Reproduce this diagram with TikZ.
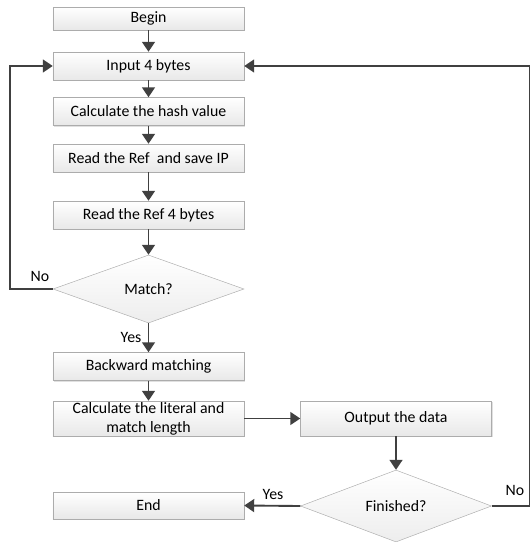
\documentclass[tikz,border=0pt]{standalone}
\usepackage{fontspec}
\setmainfont{Carlito}
\usetikzlibrary{arrows.meta,shapes.geometric,shadows}

\tikzset{
  box/.style={rectangle, draw=gray!65, top color=white, bottom color=gray!18,
    minimum width=5.73cm, minimum height=0.84cm, inner sep=1pt, align=center,
    font=\fontsize{13.5}{16}\selectfont,
    drop shadow={shadow xshift=1.2pt, shadow yshift=-1.2pt, fill=black!30, opacity=0.4}},
  decision/.style={diamond, draw=gray!65, top color=white, bottom color=gray!14,
    minimum width=5.73cm, minimum height=2.04cm, inner sep=0pt,
    font=\fontsize{13.5}{16}\selectfont},
  flow/.style={draw=black!75, line width=1.6pt, -{Triangle[length=8.5pt,width=11pt]}},
  tag/.style={font=\fontsize{13.5}{16}\selectfont, inner sep=1pt},
}

\begin{document}
\begin{tikzpicture}[x=0.03cm, y=-0.03cm]
  \useasboundingbox (0,0) rectangle (531,542);

  % Main column
  \node[box, minimum height=0.69cm] (begin) at (148.5,18.5) {Begin};
  \node[box] (input) at (148.5,66) {Input 4 bytes};
  \node[box] (hash) at (148.5,111.5) {Calculate the hash value};
  \node[box] (saveip) at (148.5,158) {Read the Ref\ \ and save IP};
  \node[box] (readref) at (148.5,215) {Read the Ref 4 bytes};
  \node[decision] (match) at (148.5,289) {Match?};
  \node[box] (backward) at (148.5,366.5) {Backward matching};
  \node[box, minimum height=1.05cm] (literal) at (148.5,418.5) {Calculate the literal and\\match length};
  \node[box, minimum height=0.81cm] (end) at (148.5,505.5) {End};

  % Right column
  \node[box, minimum height=1.05cm] (output) at (396,418.5) {Output the data};
  \node[decision] (finished) at (396,506) {Finished?};

  % Loop corners
  \coordinate (leftturn) at (10,289);
  \coordinate (lefttop) at (10,66);
  \coordinate (rightturn) at (529.5,506);
  \coordinate (righttop) at (529.5,66);

  % Arrows
  \draw[flow] (begin.south) -- (input.north);
  \draw[flow] (input.south) -- (hash.north);
  \draw[flow] (hash.south) -- (saveip.north);
  \draw[flow] (saveip.south) -- (readref.north);
  \draw[flow] (readref.south) -- (match.north);
  \draw[flow] (match.south) -- (backward.north);
  \draw[flow] (backward.south) -- (literal.north);
  \draw[flow] (literal.east) -- (output.west);
  \draw[flow] (output.south) -- (finished.north);
  \draw[flow] (finished.west) -- (end.east);
  \draw[flow] (match.west) -- (leftturn) -- (lefttop) -- (input.west);
  \draw[flow] (finished.east) -- (rightturn) -- (righttop) -- (input.east);

  % Labels
  \node[tag] (nomatch) at (40,276) {No};
  \node[tag] (yesmatch) at (131,337) {Yes};
  \node[tag] (yesend) at (273,494) {Yes};
  \node[tag] (nofinish) at (515,490) {No};
\end{tikzpicture}
\end{document}
